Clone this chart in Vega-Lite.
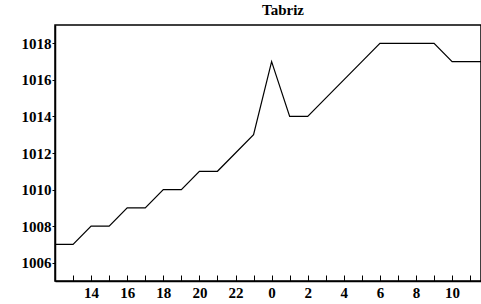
{
  "$schema": "https://vega.github.io/schema/vega-lite/v6.json",
  "autosize": "none",
  "width": 426,
  "height": 256,
  "padding": {"left": 55, "top": 25, "right": 0, "bottom": 23},
  "background": "white",
  "title": {"text": "Tabriz", "font": "Liberation Serif", "fontSize": 15, "fontWeight": "bold", "color": "black", "dx": 15, "offset": 7},
  "config": {
    "view": {"stroke": "black", "strokeWidth": 1.5}
  },
  "data": {
    "values": [
      {"t": 0, "p": 1007}, {"t": 1, "p": 1007}, {"t": 2, "p": 1008}, {"t": 3, "p": 1008},
      {"t": 4, "p": 1009}, {"t": 5, "p": 1009}, {"t": 6, "p": 1010}, {"t": 7, "p": 1010},
      {"t": 8, "p": 1011}, {"t": 9, "p": 1011}, {"t": 10, "p": 1012}, {"t": 11, "p": 1013},
      {"t": 12, "p": 1017}, {"t": 13, "p": 1014}, {"t": 14, "p": 1014}, {"t": 15, "p": 1015},
      {"t": 16, "p": 1016}, {"t": 17, "p": 1017}, {"t": 18, "p": 1018}, {"t": 19, "p": 1018},
      {"t": 20, "p": 1018}, {"t": 21, "p": 1018}, {"t": 22, "p": 1017}, {"t": 23, "p": 1017},
      {"t": 23.6, "p": 1017}
    ]
  },
  "mark": {"type": "line", "color": "black", "strokeWidth": 1.2, "clip": true},
  "encoding": {
    "x": {"field": "t", "type": "quantitative", "scale": {"domain": [0, 23.6], "nice": false, "zero": false},
      "axis": {"orient": "bottom", "title": null, "grid": false, "domain": true, "values": [1,2,3,4,5,6,7,8,9,10,11,12,13,14,15,16,17,18,19,20,21,22,23], "tickSize": -6, "labelPadding": 10, "labelExpr": "datum.value % 2 == 0 ? '' + ((datum.value + 12) % 24) : ''", "labelFlush": false,
        "labelFont": "Liberation Serif", "labelFontWeight": "bold", "labelFontSize": 15, "labelColor": "black", "domainColor": "black", "tickColor": "black", "domainWidth": 1.5}},
    "y": {"field": "p", "type": "quantitative", "scale": {"domain": [1005, 1019], "nice": false, "zero": false},
      "axis": {"orient": "left", "title": null, "grid": false, "format": "d", "values": [1006,1008,1010,1012,1014,1016,1018], "tickSize": 3, "labelPadding": 1,
        "labelFont": "Liberation Serif", "labelFontWeight": "bold", "labelFontSize": 15, "labelColor": "black", "domainColor": "black", "tickColor": "black", "domainWidth": 1.5}}
  }
}
